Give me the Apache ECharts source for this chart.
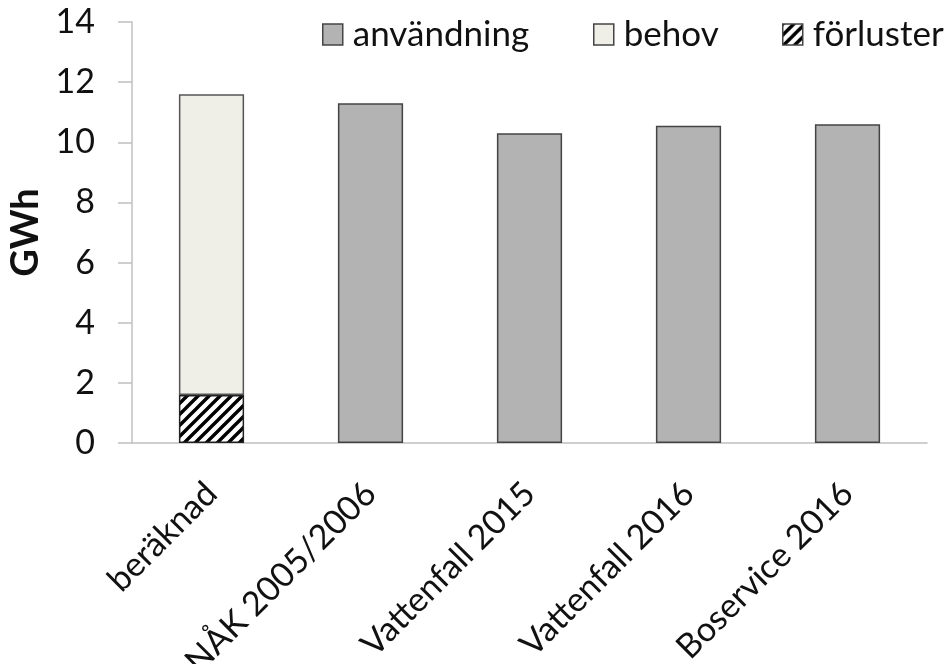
<!DOCTYPE html>
<html><head><meta charset="utf-8">
<script src="https://cdn.jsdelivr.net/npm/echarts@6/dist/echarts.min.js"></script>
<style>html,body{margin:0;padding:0;background:#fff}#c{width:948px;height:664px}</style>
</head><body><div id="c"></div>
<script>
const categories = ['beräknad', 'NÅK 2005/2006', 'Vattenfall 2015', 'Vattenfall 2016', 'Boservice 2016'];
const anvandning = ['-', 11.3, 10.3, 10.55, 10.6];
const behov = [10.0, '-', '-', '-', '-'];
const forluster = [1.6, '-', '-', '-', '-'];
const yTicks = [0, 2, 4, 6, 8, 10, 12, 14];

function hatch() {
  const s = 11;
  const c = document.createElement('canvas');
  c.width = s; c.height = s;
  const g = c.getContext('2d');
  g.fillStyle = '#fff'; g.fillRect(0, 0, s, s);
  g.strokeStyle = '#000'; g.lineWidth = 3.4;
  g.beginPath();
  g.moveTo(0, s); g.lineTo(s, 0);
  g.moveTo(-s / 2, s / 2); g.lineTo(s / 2, -s / 2);
  g.moveTo(s / 2, s * 1.5); g.lineTo(s * 1.5, s / 2);
  g.stroke();
  return c;
}
const FONT = 'Lato';
const chart = echarts.init(document.getElementById('c'), null, {renderer: 'canvas'});
const legendBase = {top: 17, itemWidth: 20, itemHeight: 21, icon: 'rect', padding: 0,
  textStyle: {fontFamily: FONT, fontSize: 35, color: '#111', padding: [6, 0, 0, 5]},
  itemStyle: {borderColor: '#444', borderWidth: 1.5}};
chart.setOption({
  animation: false,
  legend: [
    Object.assign({}, legendBase, {left: 322, data: ['användning']}),
    Object.assign({}, legendBase, {left: 593, data: ['behov']}),
    Object.assign({}, legendBase, {left: 782, data: ['förluster']})
  ],
  grid: {left: 132, right: 21, top: 22, bottom: 221, containLabel: false, outerBoundsMode: 'none'},
  xAxis: {
    type: 'category', data: categories,
    axisLine: {lineStyle: {color: '#c0c0c0', width: 1.5}},
    axisTick: {length: 12, lineStyle: {color: '#c0c0c0', width: 1.5}},
    axisLabel: {rotate: 45, fontFamily: FONT, fontSize: 34, color: '#111', margin: 45, interval: 0}
  },
  yAxis: {
    type: 'value', min: yTicks[0], max: yTicks[yTicks.length - 1], interval: 2,
    name: 'GWh', nameLocation: 'middle', nameGap: 85,
    nameTextStyle: {fontFamily: FONT, fontSize: 38, fontWeight: 'bold', color: '#111'},
    axisLine: {show: true, lineStyle: {color: '#c0c0c0', width: 1.5}},
    axisTick: {show: true, length: 14, lineStyle: {color: '#c0c0c0', width: 1.5}},
    splitLine: {show: false},
    axisLabel: {fontFamily: FONT, fontSize: 34, color: '#111', margin: 37}
  },
  series: [
    {name: 'förluster', type: 'bar', stack: 's', data: forluster, barWidth: '41%',
     itemStyle: {color: {image: hatch(), repeat: 'repeat'}, borderColor: '#222', borderWidth: 1.5}},
    {name: 'behov', type: 'bar', stack: 's', data: behov, barWidth: '41%',
     itemStyle: {color: '#efefe8', borderColor: '#555', borderWidth: 1.5}},
    {name: 'användning', type: 'bar', stack: 's', data: anvandning, barWidth: '41%',
     itemStyle: {color: '#b3b3b3', borderColor: '#444', borderWidth: 1.5}}
  ]
});
</script></body></html>
